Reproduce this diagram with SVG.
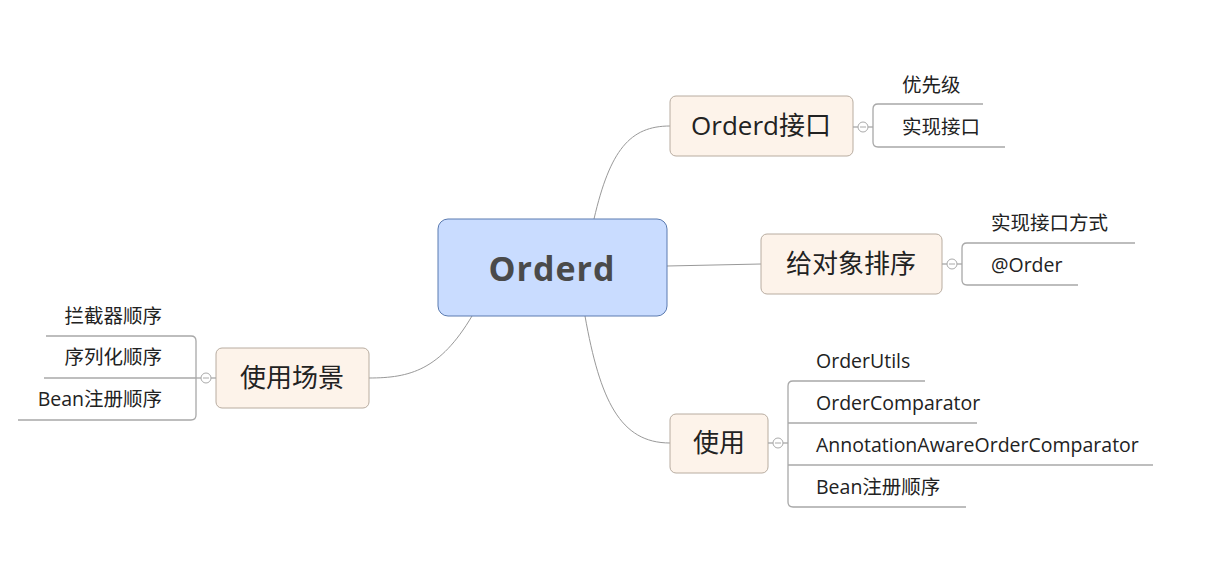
<svg xmlns="http://www.w3.org/2000/svg" width="1209" height="585" viewBox="0 0 1209 585">
<style>
.t{font-family:"Open Sans","Noto Sans CJK SC",sans-serif;fill:#222}
.n{fill:#fdf3ea;stroke:#b8aca0;stroke-width:1}
.b{fill:none;stroke:#a8a8a8;stroke-width:1.3}
.c{fill:none;stroke:#999;stroke-width:1}
.k{fill:#fff;stroke:#aaa;stroke-width:1}
.lf{font-size:19.5px}
.mn{font-size:26px}
</style>
<rect width="1209" height="585" fill="#fff"/>
<g id="connectors">
<path class="c" d="M594,219 C610,150 630,126 670,126"/>
<path class="c" d="M667,266 L761,264"/>
<path class="c" d="M585,316 C600,400 620,443 670,443"/>
<path class="c" d="M472,316 C440,370 410,378 369,378"/>
</g>
<g id="center">
<rect x="438" y="219" width="229" height="97" rx="10" fill="#c9dcff" stroke="#5a7ab0"/>
<text class="t" x="552" y="281" font-size="34" font-weight="bold" text-anchor="middle" style="fill:#4a4a4a" letter-spacing="1">Orderd</text>
</g>
<g id="n1">
<rect class="n" x="670" y="96" width="183" height="60" rx="6"/>
<text class="t mn" x="761" y="135" text-anchor="middle">Orderd接口</text>
<line class="b" x1="853" y1="127" x2="873" y2="127"/>
<circle class="k" cx="863" cy="127" r="5"/>
<line x1="860" y1="127" x2="866" y2="127" stroke="#aaa"/>
<path class="b" d="M983,104 H878 Q873,104 873,109 V142 Q873,147 878,147 H1005"/>
<text class="t lf" x="902" y="92">优先级</text>
<text class="t lf" x="902" y="134">实现接口</text>
</g>
<g id="n2">
<rect class="n" x="761" y="234" width="181" height="60" rx="6"/>
<text class="t mn" x="851" y="273" text-anchor="middle">给对象排序</text>
<line class="b" x1="942" y1="264" x2="962" y2="264"/>
<circle class="k" cx="952" cy="264" r="5"/>
<line x1="949" y1="264" x2="955" y2="264" stroke="#aaa"/>
<path class="b" d="M1135,243 H967 Q962,243 962,248 V280 Q962,285 967,285 H1078"/>
<text class="t lf" x="991" y="230">实现接口方式</text>
<text class="t lf" x="991" y="272">@Order</text>
</g>
<g id="n3">
<rect class="n" x="670" y="414" width="98" height="59" rx="6"/>
<text class="t mn" x="719" y="452" text-anchor="middle">使用</text>
<line class="b" x1="768" y1="443" x2="788" y2="443"/>
<circle class="k" cx="778" cy="443" r="5"/>
<line x1="775" y1="443" x2="781" y2="443" stroke="#aaa"/>
<path class="b" d="M925,381 H793 Q788,381 788,386 V502 Q788,507 793,507 H966"/>
<line class="b" x1="788" y1="423" x2="977" y2="423"/>
<line class="b" x1="788" y1="465" x2="1153" y2="465"/>
<text class="t lf" x="816" y="368">OrderUtils</text>
<text class="t lf" x="816" y="410">OrderComparator</text>
<text class="t lf" x="816" y="452">AnnotationAwareOrderComparator</text>
<text class="t lf" x="816" y="494">Bean注册顺序</text>
</g>
<g id="n4">
<rect class="n" x="216" y="348" width="153" height="60" rx="6"/>
<text class="t mn" x="292" y="387" text-anchor="middle">使用场景</text>
<line class="b" x1="196" y1="378" x2="216" y2="378"/>
<circle class="k" cx="206" cy="378" r="5"/>
<line x1="203" y1="378" x2="209" y2="378" stroke="#aaa"/>
<path class="b" d="M46,336 H191 Q196,336 196,341 V415 Q196,420 191,420 H18"/>
<line class="b" x1="44" y1="378" x2="196" y2="378"/>
<text class="t lf" x="162" y="323" text-anchor="end">拦截器顺序</text>
<text class="t lf" x="162" y="364" text-anchor="end">序列化顺序</text>
<text class="t lf" x="162" y="406" text-anchor="end">Bean注册顺序</text>
</g>
</svg>
